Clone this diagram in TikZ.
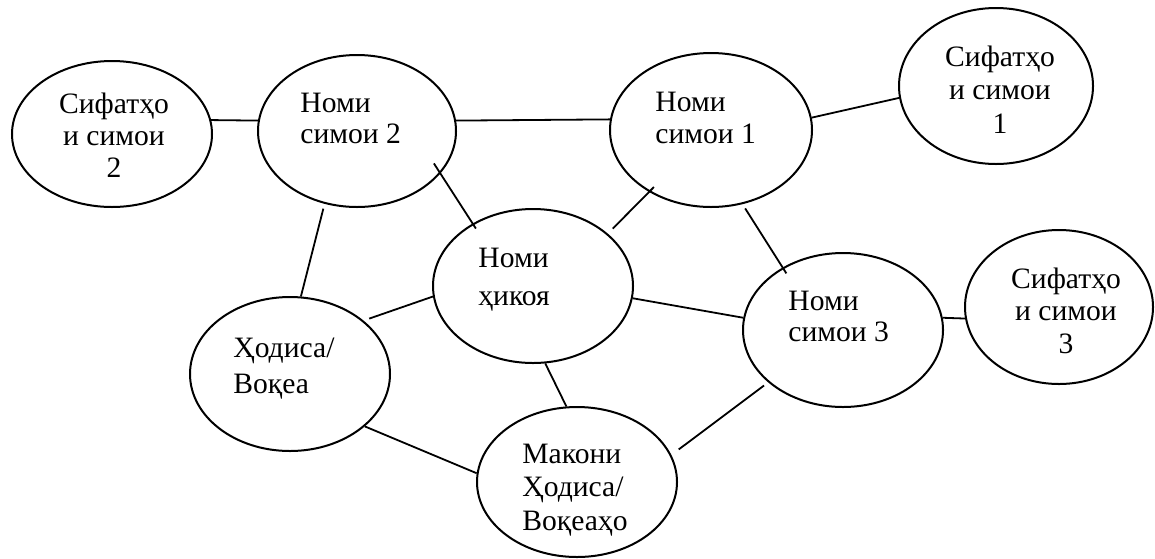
\documentclass[tikz,border=0pt]{standalone}
\usepackage{fontspec}
\setmainfont{Liberation Serif}
\usetikzlibrary{shapes.geometric,positioning}
\tikzset{
blob/.style={ellipse,draw=black,line width=1pt,inner sep=0pt},
txt/.style={font=\fontsize{14.8}{16}\selectfont,inner sep=0pt,align=left,anchor=base west},
ctxt/.style={txt,align=center,anchor=base},
lead/.style={font=\fontsize{14.8}{#1}\selectfont},
link/.style={line width=0.9pt}
}
\begin{document}
\begin{tikzpicture}[x=0.5pt,y=-0.5pt]
\useasboundingbox (0,0) rectangle (1155,558);
\node[blob,minimum width=100pt,minimum height=73pt] (s2) at (112,134) {};
\node[blob,minimum width=99pt,minimum height=76pt] (n2) at (357,131) {};
\node[blob,minimum width=101pt,minimum height=77pt] (n1) at (711,130) {};
\node[blob,minimum width=97pt,minimum height=78pt] (s1) at (996,86) {};
\node[blob,minimum width=100pt,minimum height=77pt] (nh) at (533,286) {};
\node[blob,minimum width=100pt,minimum height=77pt] (hv) at (290,374) {};
\node[blob,minimum width=100pt,minimum height=75pt] (mk) at (577,482) {};
\node[blob,minimum width=100pt,minimum height=77pt] (n3) at (843,330) {};
\node[blob,minimum width=94pt,minimum height=77pt] (s3) at (1059,307) {};

\node[ctxt] (s2t) at (114,177) {Сифатҳо\\и симои\\2};
\node[txt,lead=15.5pt] (n2t) at (300,143) {Номи\\симои 2};
\node[txt] (n1t) at (655,143) {Номи\\симои 1};
\node[ctxt,lead=16.75pt] (s1t) at (1000,133) {Сифатҳо\\и симои\\1};
\node[txt,lead=19pt] (nht) at (478,305) {Номи\\ҳикоя};
\node[txt,lead=18pt] (hvt) at (233,393) {Ҳодиса/\\Воқеа};
\node[txt,lead=16.75pt] (mkt) at (522,530) {Макони\\Ҳодиса/\\Воқеаҳо};
\node[txt,lead=15.5pt] (n3t) at (788,341) {Номи\\симои 3};
\node[ctxt,lead=16.25pt] (s3t) at (1066,353) {Сифатҳо\\и симои\\3};

\draw[link] (s2.8) -- (n2.174);
\draw[link] (n2.6) -- (n1.174);
\draw[link] (n1.7) -- (s1.187);
\draw[link,shorten <=-6pt,shorten >=-3pt] (n2.-27) -- (nh.134);
\draw[link,shorten <=2.5pt] (n2.-114) -- (hv.82);
\draw[link,shorten <=3.5pt,shorten >=-3.5pt] (nh.35) -- (n1.-135);
\draw[link] (nh.-7) -- (n3.173);
\draw[link,shorten <=2.5pt,shorten >=-3.5pt] (n1.-67) -- (n3.134);
\draw[link,shorten <=3pt] (hv.36) -- (nh.186);
\draw[link] (hv.-35) -- (mk.175);
\draw[link] (nh.-81) -- (mk.98);
\draw[link,shorten <=4.6pt,shorten >=2.6pt] (mk.16) -- (n3.-145);
\draw[link] (n3.7) -- (s3.187);
\end{tikzpicture}
\end{document}
